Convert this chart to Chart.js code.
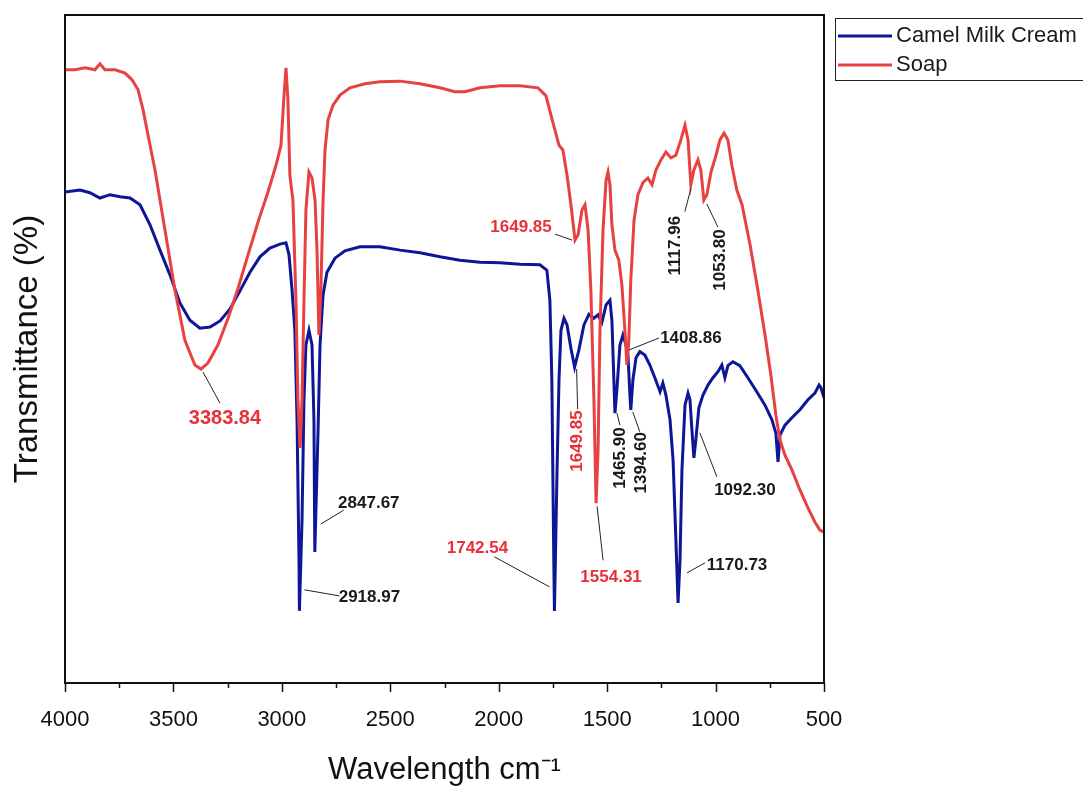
<!DOCTYPE html>
<html>
<head>
<meta charset="utf-8">
<script src="https://cdn.jsdelivr.net/npm/chart.js@4.4.0/dist/chart.umd.min.js"></script>
<style>
    html, body { margin: 0; padding: 0; background: #ffffff; }
</style>
</head>
<body>
<canvas id="ftir" width="1083" height="789"></canvas>
<script>
// Camel Milk Cream spectrum (wavenumber cm-1, transmittance %)
const creamWave = [4000, 3931, 3885, 3839, 3792, 3746, 3700, 3654, 3608, 3562, 3516, 3470, 3424, 3378, 3331,
    3285, 3239, 3193, 3147, 3101, 3055, 3009, 2981, 2967, 2953, 2940, 2930, 2921, 2919, 2907, 2898, 2889,
    2875, 2861, 2852, 2848, 2833, 2824, 2810, 2792, 2755, 2709, 2640, 2548, 2455, 2363, 2271, 2179, 2086,
    1994, 1902, 1810, 1778, 1764, 1755, 1746, 1743, 1731, 1722, 1713, 1699, 1685, 1667, 1650, 1630, 1607,
    1584, 1561, 1542, 1524, 1505, 1487, 1478, 1469, 1464, 1455, 1441, 1427, 1413, 1404, 1395, 1391, 1381,
    1367, 1349, 1326, 1303, 1280, 1256, 1243, 1229, 1210, 1196, 1183, 1173, 1164, 1155, 1141, 1127, 1118,
    1109, 1100, 1091, 1077, 1058, 1035, 1012, 989, 971, 957, 943, 920, 888, 851, 810, 772, 740, 722, 712,
    703, 680, 648, 611, 574, 542, 523, 514, 500];
const creamTrans = [73.5, 73.8, 73.4, 72.6, 73.1, 72.8, 72.6, 71.6, 68.6, 64.8, 61.1, 56.9, 54.3, 53.1, 53.3,
    54.2, 56.0, 58.7, 61.5, 63.8, 65.1, 65.7, 65.9, 64.1, 58.8, 52.8, 39.4, 18.4, 10.8, 24.4, 42.4, 50.6,
    52.8, 50.6, 39.4, 19.6, 37.9, 50.6, 58.1, 61.5, 63.6, 64.7, 65.3, 65.3, 64.8, 64.4, 63.8, 63.3, 63.0,
    62.9, 62.7, 62.6, 61.8, 57.3, 45.4, 18.4, 10.8, 31.9, 45.4, 52.8, 54.6, 53.6, 50.1, 47.3, 49.9, 53.6,
    55.2, 54.6, 55.1, 54.0, 56.6, 57.3, 54.3, 45.4, 40.4, 43.9, 50.6, 52.1, 50.6, 49.1, 43.1, 40.9, 45.4,
    48.7, 49.6, 49.1, 47.6, 45.7, 43.6, 44.9, 43.1, 39.4, 33.4, 21.4, 12.0, 18.4, 31.9, 41.6, 43.4, 42.4,
    37.9, 33.7, 36.4, 41.2, 43.1, 44.6, 45.7, 46.6, 47.6, 45.7, 47.5, 48.1, 47.5, 45.7, 43.6, 41.6, 39.4, 37.4, 33.1,
    37.1, 38.6, 39.7, 40.9, 42.4, 43.4, 44.6, 44.2, 42.7];

// Soap spectrum
const soapWave = [4000, 3954, 3908, 3862, 3839, 3816, 3769, 3723, 3691, 3663, 3640, 3617, 3585, 3539, 3493,
    3447, 3401, 3373, 3341, 3295, 3248, 3202, 3156, 3110, 3064, 3027, 3004, 2990, 2981, 2972, 2963, 2949,
    2935, 2926, 2916, 2907, 2898, 2889, 2875, 2861, 2847, 2838, 2829, 2820, 2810, 2801, 2787, 2764, 2732,
    2686, 2617, 2548, 2455, 2363, 2271, 2202, 2156, 2086, 1994, 1902, 1819, 1782, 1759, 1741, 1722, 1704,
    1685, 1667, 1648, 1634, 1616, 1602, 1588, 1575, 1561, 1551, 1542, 1533, 1519, 1505, 1496, 1487, 1478,
    1464, 1446, 1432, 1418, 1409, 1400, 1391, 1376, 1358, 1335, 1312, 1293, 1275, 1252, 1229, 1206, 1183,
    1160, 1141, 1127, 1114, 1100, 1081, 1068, 1054, 1040, 1021, 998, 980, 961, 943, 925, 902, 878, 841,
    805, 772, 745, 722, 703, 680, 648, 611, 574, 542, 519, 500];
const soapTrans = [91.8, 91.8, 92.1, 91.8, 92.7, 91.8, 91.8, 91.3, 90.3, 88.8, 85.8, 82.0, 76.8, 67.8, 58.8,
    51.3, 47.6, 47.0, 47.9, 50.6, 54.6, 59.1, 64.1, 69.0, 73.5, 77.5, 80.5, 88.0, 92.1, 87.3, 76.0, 72.3,
    57.3, 42.4, 35.2, 42.4, 57.3, 70.8, 76.5, 75.6, 72.3, 64.8, 52.1, 58.8, 72.3, 79.8, 84.3, 86.5, 88.0,
    89.1, 89.7, 90.0, 90.1, 89.7, 89.1, 88.5, 88.5, 89.1, 89.4, 89.4, 89.1, 87.9, 85.0, 82.8, 80.5, 79.8,
    76.0, 71.6, 66.3, 67.1, 70.8, 71.6, 67.8, 58.8, 42.4, 26.9, 34.7, 52.8, 67.8, 75.3, 76.5, 74.6, 68.6,
    64.8, 63.3, 59.6, 52.8, 47.6, 51.3, 60.3, 69.3, 73.1, 74.9, 75.6, 74.6, 76.8, 78.3, 79.5, 78.6, 79.0,
    81.3, 83.5, 81.3, 74.6, 76.8, 78.3, 76.8, 72.3, 73.1, 76.5, 79.0, 81.3, 82.3, 81.3, 77.5, 73.8, 71.6, 65.6,
    58.8, 52.1, 46.1, 40.1, 36.4, 34.1, 31.9, 28.9, 26.2, 24.1, 22.9, 22.6];

const majorTicks = [4000, 3500, 3000, 2500, 2000, 1500, 1000, 500];

// peak labels and the spectrum each one belongs to
const peakLabels = ['3383.84', '2847.67', '2918.97', '1742.54', '1649.85', '1649.85', '1554.31',
    '1465.90', '1394.60', '1408.86', '1117.96', '1053.80', '1092.30', '1170.73'];
const peakSeries = ['soap', 'cream', 'cream', 'cream', 'soap', 'cream', 'soap',
    'cream', 'cream', 'soap', 'soap', 'soap', 'cream', 'cream'];

const BLUE = '#0d1696';
const RED = '#e84141';
const LABEL_RED = '#e8303a';
const FONT = "'Liberation Sans', Arial, sans-serif";

// label placement: [labelDx, labelDy, fromDx, fromDy, toDx, toDy, rotated, size, red]
const peakLayout = [
    [24, 49, 2, 3, 19, 34, false, 20, true],
    [54, -49, 6, -28, 29, -42, false, 17, false],
    [70, -14, 5, -21, 40, -15, false, 17, false],
    [-77, -63, -5, -24, -60, -54, false, 17, true],
    [-54, -13, -3, 0, -20, -6, false, 17, true],
    [3, 74, 2, 2, 3, 42, true, 17, true],
    [15, 74, 1, 3, 7, 57, false, 17, true],
    [5, 45, 2, 0, 5, 12, true, 17, false],
    [11, 53, 2, 2, 9, 22, true, 17, false],
    [64, -27, 2, -15, 32, -27, false, 17, false],
    [-16, 61, 0, 4, -6, 27, true, 17, false],
    [16, 60, 3, 4, 14, 27, true, 17, false],
    [51, 32, 6, -25, 23, 19, false, 17, false],
    [59, -38, 9, -30, 27, -40, false, 17, false],
];

const toPoints = (waves, trans) => waves.map((w, i) => ({ x: w, y: trans[i] }));

/**
 * Frame, tick marks, peak annotations and the legend box.
 */
const decorations = {
    id: 'decorations',
    afterDatasetsDraw(chart) {
        const ctx = chart.ctx;
        const area = chart.chartArea;
        const xScale = chart.scales.x;
        const yScale = chart.scales.y;

        // frame
        ctx.save();
        ctx.strokeStyle = '#111';
        ctx.lineWidth = 2;
        ctx.strokeRect(area.left, area.top, area.right - area.left, area.bottom - area.top);

        // tick marks
        ctx.lineWidth = 1.5;
        xScale.ticks.forEach((tick) => {
            const px = Math.round(xScale.getPixelForValue(tick.value)) + 0.5;
            const len = majorTicks.includes(tick.value) ? 9 : 5;
            ctx.beginPath();
            ctx.moveTo(px, area.bottom);
            ctx.lineTo(px, area.bottom + len);
            ctx.stroke();
        });

        // peak annotations
        const seriesData = {
            cream: chart.data.datasets[0].data,
            soap: chart.data.datasets[1].data,
        };
        peakLabels.forEach((text, i) => {
            const wn = parseFloat(text);
            const pts = seriesData[peakSeries[i]].filter((p) => Math.abs(p.x - wn) <= 12);
            const anchor = pts.reduce((a, b) => (b.y < a.y ? b : a));
            const ax = xScale.getPixelForValue(anchor.x);
            const ay = yScale.getPixelForValue(anchor.y);
            const [ldx, ldy, fdx, fdy, tdx, tdy, rotated, size, red] = peakLayout[i];

            ctx.strokeStyle = '#222';
            ctx.lineWidth = 1;
            ctx.beginPath();
            ctx.moveTo(ax + fdx, ay + fdy);
            ctx.lineTo(ax + tdx, ay + tdy);
            ctx.stroke();

            ctx.save();
            ctx.translate(ax + ldx, ay + ldy);
            if (rotated) {
                ctx.rotate(-Math.PI / 2);
            }
            ctx.font = 'bold ' + size + 'px ' + FONT;
            ctx.fillStyle = red ? LABEL_RED : '#1a1a1a';
            ctx.textAlign = 'center';
            ctx.textBaseline = 'middle';
            ctx.fillText(text, 0, 0);
            ctx.restore();
        });

        // legend
        const lx = area.right + 11;
        ctx.strokeStyle = '#222';
        ctx.lineWidth = 1;
        ctx.strokeRect(lx + 0.5, 18.5, 260, 62);
        ctx.font = '22px ' + FONT;
        ctx.textAlign = 'left';
        ctx.textBaseline = 'middle';
        chart.data.datasets.forEach((ds, i) => {
            const ly = 36 + i * 29;
            ctx.strokeStyle = ds.borderColor;
            ctx.lineWidth = 3;
            ctx.beginPath();
            ctx.moveTo(lx + 3, ly);
            ctx.lineTo(lx + 57, ly);
            ctx.stroke();
            ctx.fillStyle = '#1a1a1a';
            ctx.fillText(ds.label, lx + 61, ly);
        });
        ctx.restore();
    },
};

new Chart(document.getElementById('ftir'), {
    type: 'line',
    data: {
        datasets: [
            {
                label: 'Camel Milk Cream',
                data: toPoints(creamWave, creamTrans),
                borderColor: BLUE,
                borderWidth: 3,
                pointRadius: 0,
                tension: 0,
                order: 1,
            },
            {
                label: 'Soap',
                data: toPoints(soapWave, soapTrans),
                borderColor: RED,
                borderWidth: 3,
                pointRadius: 0,
                tension: 0,
                order: 0,
            },
        ],
    },
    options: {
        responsive: false,
        animation: false,
        devicePixelRatio: 1,
        layout: {
            padding: { left: 0, right: 259, top: 15, bottom: 0 },
        },
        plugins: {
            legend: { display: false },
            tooltip: { enabled: false },
        },
        scales: {
            x: {
                type: 'linear',
                min: 500,
                max: 4000,
                reverse: true,
                grid: { display: false },
                border: { display: false },
                ticks: {
                    stepSize: 250,
                    autoSkip: false,
                    maxRotation: 0,
                    padding: 16,
                    color: '#111',
                    font: { family: FONT, size: 22 },
                    callback: (value) => (majorTicks.includes(value) ? String(value) : ''),
                },
                title: {
                    display: true,
                    text: 'Wavelength cm\u207B\u00B9',
                    color: '#111',
                    padding: { top: 0, bottom: 0 },
                    font: { family: FONT, size: 31 },
                },
                afterFit: (scale) => { scale.height = 106; },
            },
            y: {
                type: 'linear',
                min: 0,
                max: 100,
                grid: { display: false },
                border: { display: false },
                ticks: { display: false },
                title: {
                    display: true,
                    text: 'Transmittance (%)',
                    color: '#111',
                    padding: { top: 8, bottom: 0 },
                    font: { family: FONT, size: 33 },
                },
                afterFit: (scale) => { scale.width = 65; },
            },
        },
    },
    plugins: [decorations],
});
</script>
</body>
</html>
